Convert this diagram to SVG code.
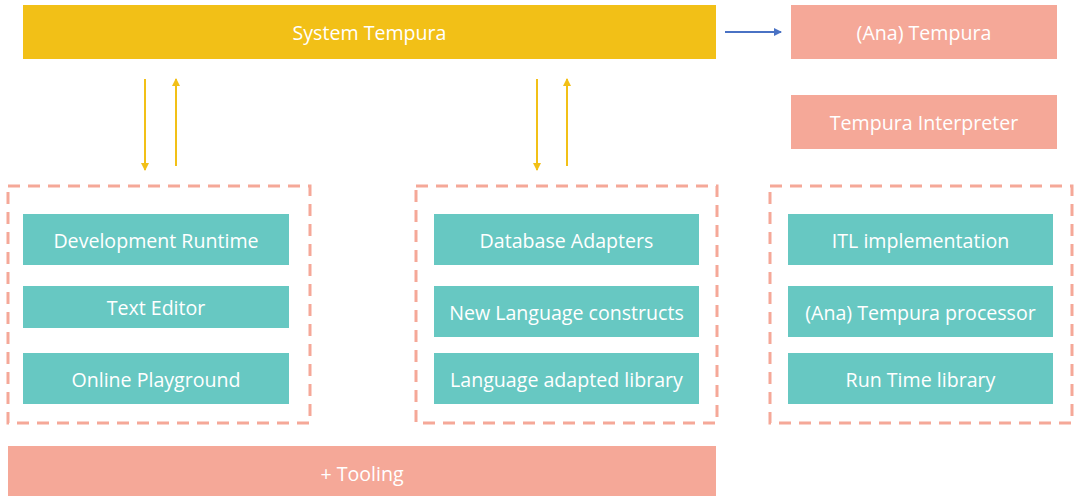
<svg xmlns="http://www.w3.org/2000/svg" width="1076" height="497" viewBox="0 0 1076 497">
<style>
.sys{fill:#F2C017}
.pink{fill:#F5A898}
.teal{fill:#67C8C2}
.grp{fill:none;stroke:#F5A898;stroke-width:3;stroke-dasharray:12 8}
.t{font-family:"Open Sans","Liberation Sans",sans-serif;font-size:19.6px;fill:#ffffff;text-anchor:middle;dominant-baseline:central}
.y{stroke:#F2C017;stroke-width:2;fill:none}
.b{stroke:#4A72C4;stroke-width:2;fill:none}
</style>
<defs>
<marker id="ay" markerWidth="8" markerHeight="8" refX="7" refY="4" orient="auto" markerUnits="userSpaceOnUse"><path d="M0,0 L8,4 L0,8 Z" fill="#F2C017"/></marker>
<marker id="ab" markerWidth="8" markerHeight="8" refX="7" refY="4" orient="auto" markerUnits="userSpaceOnUse"><path d="M0,0 L8,4 L0,8 Z" fill="#4A72C4"/></marker>
</defs>
<rect width="1076" height="497" fill="#ffffff"/>
<g id="groups">
<rect id="grp-left" class="grp" x="8" y="186" width="302" height="237"/>
<rect id="grp-mid" class="grp" x="416" y="186" width="301" height="237"/>
<rect id="grp-right" class="grp" x="770" y="186" width="302" height="237"/>
</g>
<g id="n-system"><rect class="sys" x="23" y="5" width="693" height="54"/><text class="t" x="369.5" y="32">System Tempura</text></g>
<g id="n-ana"><rect class="pink" x="791" y="5" width="266" height="54"/><text class="t" x="924" y="32">(Ana) Tempura</text></g>
<g id="n-interp"><rect class="pink" x="791" y="95" width="266" height="54"/><text class="t" x="924" y="122">Tempura Interpreter</text></g>
<g id="n-devrt"><rect class="teal" x="23" y="214" width="266" height="51"/><text class="t" x="156" y="240">Development Runtime</text></g>
<g id="n-editor"><rect class="teal" x="23" y="286" width="266" height="42"/><text class="t" x="156" y="307">Text Editor</text></g>
<g id="n-play"><rect class="teal" x="23" y="353" width="266" height="51"/><text class="t" x="156" y="379">Online Playground</text></g>
<g id="n-db"><rect class="teal" x="434" y="214" width="265" height="51"/><text class="t" x="566.5" y="240">Database Adapters</text></g>
<g id="n-newlang"><rect class="teal" x="434" y="286" width="265" height="51"/><text class="t" x="566.5" y="312">New Language constructs</text></g>
<g id="n-langlib"><rect class="teal" x="434" y="353" width="265" height="51"/><text class="t" x="566.5" y="379">Language adapted library</text></g>
<g id="n-itl"><rect class="teal" x="788" y="214" width="265" height="51"/><text class="t" x="920.5" y="240">ITL implementation</text></g>
<g id="n-proc"><rect class="teal" x="788" y="286" width="265" height="51"/><text class="t" x="920.5" y="312">(Ana) Tempura processor</text></g>
<g id="n-rtl"><rect class="teal" x="788" y="353" width="265" height="51"/><text class="t" x="920.5" y="379">Run Time library</text></g>
<g id="n-tooling"><rect class="pink" x="8" y="446" width="708" height="50"/><text class="t" x="362" y="473">+ Tooling</text></g>
<g id="connectors">
<line class="y" x1="145" y1="79" x2="145" y2="170" marker-end="url(#ay)"/>
<line class="y" x1="176" y1="166" x2="176" y2="79" marker-end="url(#ay)"/>
<line class="y" x1="537" y1="79" x2="537" y2="170" marker-end="url(#ay)"/>
<line class="y" x1="567" y1="166" x2="567" y2="79" marker-end="url(#ay)"/>
<line class="b" x1="725" y1="32" x2="781" y2="32" marker-end="url(#ab)"/>
</g>
</svg>
